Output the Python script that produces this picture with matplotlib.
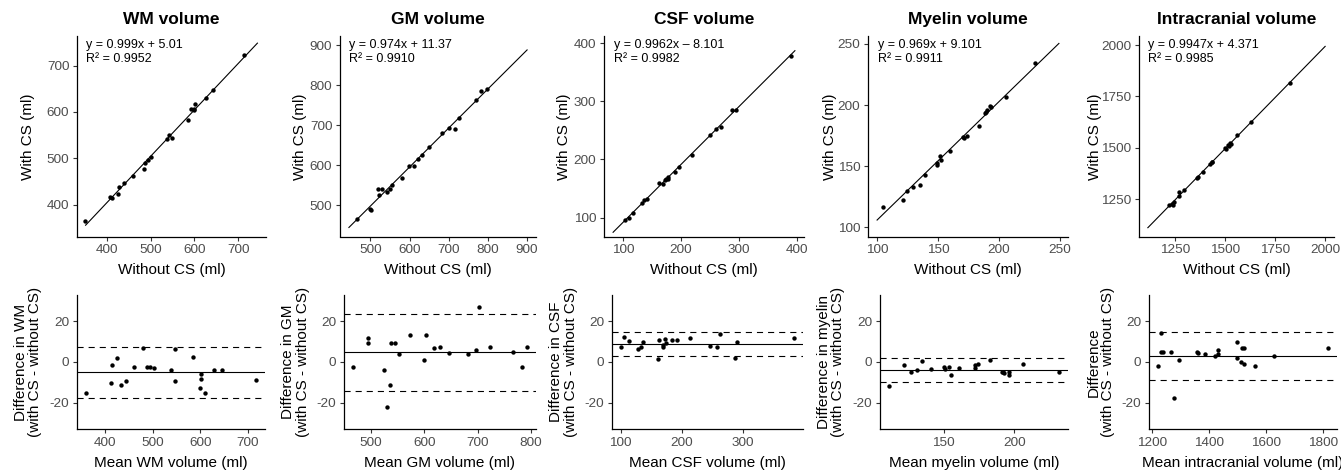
import matplotlib.pyplot as plt
import numpy as np
from matplotlib.ticker import MultipleLocator

plt.rcParams["font.family"] = ["Liberation Sans", "DejaVu Sans"]
plt.rcParams["axes.unicode_minus"] = False

titles = ["WM volume", "GM volume", "CSF volume", "Myelin volume", "Intracranial volume"]
tissue = ["WM", "GM", "CSF", "myelin", "intracranial"]

# Bland-Altman values read from the lower row (mean, plotted difference)
wm_mean = [358, 412, 413, 424, 433, 443, 461, 480, 488, 494, 502,
           539, 546, 546, 584, 599, 602, 602, 610, 628, 645, 718]
wm_diff = [-15.5, -10.5, -1.7, 2.2, -11.3, -9.3, -2.3, 7.0, -2.3, -2.7, -3.0,
           -3.8, 6.5, -9.2, 2.3, -12.8, -5.7, -8.2, -15.5, -4.0, -3.7, -8.8]

gm_mean = [466, 495, 495, 524, 536, 531, 537, 546, 552, 574, 599,
           604, 619, 629, 647, 682, 697, 703, 723, 766, 783, 793]
gm_diff = [-2.3, 11.6, 9.5, -3.9, -11.3, -22.1, 9.5, 9.5, 3.8, 13.3, 1.0,
           13.3, 6.7, 7.5, 4.3, 3.8, 5.9, 27.2, 7.5, 4.8, -2.5, 7.4]

csf_mean = [100, 105, 113, 129, 133, 137, 163, 161, 169, 170, 172,
            174, 184, 192, 214, 246, 257, 263, 287, 290, 384]
csf_diff = [7.4, 12.3, 10.3, 6.6, 7.2, 9.7, 10.7, 1.5, 7.4, 8.4, 11.5,
            9.2, 10.7, 10.7, 11.6, 8.0, 7.4, 13.6, 2.1, 9.7, 12.0]

myelin_mean = [111, 122, 127, 131, 135, 141, 150, 151, 154, 155, 161,
               172, 172, 174, 183, 191, 192, 193, 196, 196, 206, 232]
myelin_diff = [-11.8, -1.5, -5.1, -3.9, 0.7, -3.4, -2.6, -3.3, -2.6, -6.6, -3.0,
               -1.6, -3.0, -1.1, 0.8, -4.9, -4.9, -5.4, -4.9, -6.6, -0.8, -4.8]

icv_mean = [1218, 1229, 1229, 1238, 1267, 1276, 1294, 1356, 1361, 1385, 1420,
            1431, 1432, 1498, 1498, 1512, 1514, 1524, 1524, 1562, 1628, 1820]
icv_diff = [-2.2, 14.2, 5.0, 5.0, 5.0, -17.5, 0.8, 5.0, 4.2, 3.8, 2.8,
            3.7, 6.0, 10.0, 2.0, 0.0, 7.0, 7.0, -0.8, -2.2, 3.0, 7.0]

means = [wm_mean, gm_mean, csf_mean, myelin_mean, icv_mean]
diffs = [wm_diff, gm_diff, csf_diff, myelin_diff, icv_diff]

# regression fits printed on the upper row
slopes = [0.999, 0.974, 0.9962, 0.969, 0.9947]
intercepts = [5.01, 11.37, -8.101, 9.101, 4.371]
eq_labels = ["y = 0.999x + 5.01", "y = 0.974x + 11.37", "y = 0.9962x \u2013 8.101",
             "y = 0.969x + 9.101", "y = 0.9947x + 4.371"]
r2_labels = ["0.9952", "0.9910", "0.9982", "0.9911", "0.9985"]
fit_range = [(351, 744), (445, 900), (83, 397), (100, 249), (1112, 2000)]

# bias and limits of agreement
bias = [-5.0, 4.75, 9.0, -3.9, 3.0]
loa_upper = [7.2, 23.6, 14.9, 1.8, 14.7]
loa_lower = [-17.5, -14.1, 3.1, -9.7, -8.7]

top_step = [100, 100, 100, 50, 250]
bottom_step = [100, 100, 100, 50, 200]

# layout in pixels
W, H = 1341, 470
top_y0, top_y1 = 36, 236.5
bot_y0, bot_y1 = 295, 429
top_l = [77, 340, 604, 868, 1139]
top_r = [266, 536, 804, 1068, 1334]
bot_l = [77, 344, 612, 880, 1149]
bot_r = [265, 536, 803, 1068, 1337]
top_ylab_x = [28.3, 299.7, 564.3, 830, 1095.5]
bot_ylab_x = [27.8, 295.5, 563.5, 830.8, 1100.8]
title_y = 19.3
top_xlab_y = 270
bot_xlab_y = 462.7


def style(ax):
    for s in ["top", "right"]:
        ax.spines[s].set_visible(False)
    for s in ["left", "bottom"]:
        ax.spines[s].set_linewidth(0.9)
        ax.spines[s].set_color("black")
    ax.tick_params(length=3, width=0.8, color="#333333", labelsize=9.7,
                   labelcolor="#4d4d4d", pad=2.5)


fig = plt.figure(figsize=(W / 100, H / 100), dpi=100)

for i in range(5):
    mean = np.array(means[i], dtype=float)
    diff = np.array(diffs[i], dtype=float)
    # the plotted difference is (x - y) of the upper scatter
    without_cs = mean + diff / 2
    with_cs = mean - diff / 2

    # upper row: agreement scatter
    th = top_y1 - top_y0
    ax = fig.add_axes([top_l[i] / W, (H - top_y1) / H,
                       (top_r[i] - top_l[i]) / W, th / H])
    lo, hi = fit_range[i]
    pad = 0.05 * (hi - lo)
    ax.set_xlim(lo - pad, hi + pad)
    ax.set_ylim(lo - pad, hi + pad)
    xs = np.array(fit_range[i], dtype=float)
    ax.plot(xs, slopes[i] * xs + intercepts[i], color="black", lw=0.8)
    ax.scatter(without_cs, with_cs, s=10, color="black", linewidths=0, zorder=3)
    ax.xaxis.set_major_locator(MultipleLocator(top_step[i]))
    ax.yaxis.set_major_locator(MultipleLocator(top_step[i]))
    style(ax)
    ax.text(0.048, 0.985, eq_labels[i] + "\nR\u00b2 = " + r2_labels[i],
            transform=ax.transAxes, ha="left", va="top", fontsize=9,
            linespacing=1.25)
    ax.set_xlabel("Without CS (ml)", fontsize=11, va="center")
    ax.xaxis.set_label_coords(0.5, -(top_xlab_y - top_y1) / th)
    ax.set_ylabel("With CS (ml)", fontsize=11, va="center")
    ax.yaxis.set_label_coords(top_ylab_x[i] / W, 1 - (top_y0 + top_y1) / 2 / H,
                              transform=fig.transFigure)
    ax.set_title(titles[i], fontsize=12.5, fontweight="bold", va="center",
                 pad=0, y=1 + (top_y0 - title_y) / th)

    # lower row: Bland-Altman
    bh = bot_y1 - bot_y0
    bx = fig.add_axes([bot_l[i] / W, (H - bot_y1) / H,
                       (bot_r[i] - bot_l[i]) / W, bh / H])
    span = mean.max() - mean.min()
    bx.set_xlim(mean.min() - 0.05 * span, mean.max() + 0.05 * span)
    bx.set_ylim(-33, 33)
    bx.axhline(bias[i], color="black", lw=0.8)
    bx.axhline(loa_upper[i], color="black", lw=0.8, ls=(0, (5.5, 4.5)))
    bx.axhline(loa_lower[i], color="black", lw=0.8, ls=(0, (5.5, 4.5)))
    bx.scatter(mean, diff, s=10, color="black", linewidths=0, zorder=3)
    bx.xaxis.set_major_locator(MultipleLocator(bottom_step[i]))
    bx.set_yticks([-20, 0, 20])
    style(bx)
    bx.set_xlabel("Mean %s volume (ml)" % tissue[i], fontsize=11, va="center")
    bx.xaxis.set_label_coords(0.5, -(bot_xlab_y - bot_y1) / bh)
    if tissue[i] == "intracranial":
        ylab = "Difference\n(with CS - without CS)"
    else:
        ylab = "Difference in %s\n(with CS - without CS)" % tissue[i]
    bx.set_ylabel(ylab, fontsize=11, va="center", linespacing=1.0)
    bx.yaxis.set_label_coords(bot_ylab_x[i] / W, 1 - (bot_y0 + bot_y1) / 2 / H,
                              transform=fig.transFigure)

fig.savefig("out.png", dpi=100)
